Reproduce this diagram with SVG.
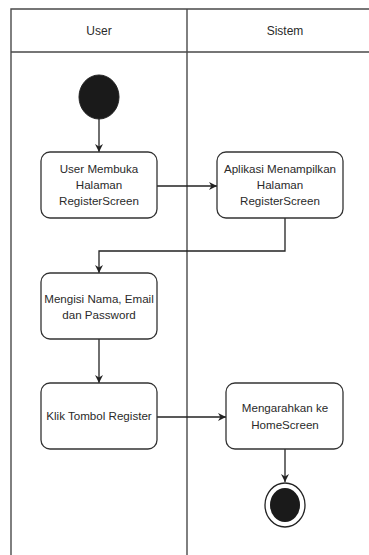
<svg xmlns="http://www.w3.org/2000/svg" width="369" height="555" viewBox="0 0 369 555">
  <style>
    .lane { fill: none; stroke: #4a4a4a; stroke-width: 1.4; }
    .node { fill: #ffffff; stroke: #333333; stroke-width: 1.3; }
    .lbl { font-family: "Liberation Sans", Arial, sans-serif; font-size: 11.6px; fill: #2a2a2a; text-anchor: middle; }
    .hdr { font-family: "Liberation Sans", Arial, sans-serif; font-size: 12px; fill: #2a2a2a; text-anchor: middle; }
    .edge { fill: none; stroke: #222222; stroke-width: 1.3; }
  </style>
  <defs>
    <marker id="arrow" viewBox="0 0 10 10" refX="10" refY="5" markerWidth="8" markerHeight="8" markerUnits="userSpaceOnUse" orient="auto">
      <path d="M0,0 L10,5 L0,10 L3,5 Z" fill="#222222"/>
    </marker>
  </defs>
  <rect width="369" height="555" fill="#ffffff"/>

  <!-- swimlanes -->
  <g id="lanes">
    <path class="lane" d="M11,555 V9 H369 M11,52 H369 M187,9 V555"/>
    <text class="hdr" x="99" y="35">User</text>
    <text class="hdr" x="285" y="35">Sistem</text>
  </g>

  <!-- connectors -->
  <g id="connectors">
    <path class="edge" d="M99,119 V152" marker-end="url(#arrow)"/>
    <path class="edge" d="M157,186 H217" marker-end="url(#arrow)"/>
    <path class="edge" d="M285,218 V251 H99 V273" marker-end="url(#arrow)"/>
    <path class="edge" d="M99,339 V383" marker-end="url(#arrow)"/>
    <path class="edge" d="M157,417 H226" marker-end="url(#arrow)"/>
    <path class="edge" d="M285,449 V482" marker-end="url(#arrow)"/>
  </g>

  <g id="start">
    <ellipse cx="99" cy="97" rx="20" ry="22" fill="#1a1a1a" stroke="#222" stroke-width="1"/>
  </g>

  <g id="open-register">
    <rect class="node" x="41" y="152" width="116" height="66" rx="9"/>
    <text class="lbl" x="99" y="173">User Membuka</text>
    <text class="lbl" x="99" y="189">Halaman</text>
    <text class="lbl" x="99" y="205">RegisterScreen</text>
  </g>

  <g id="show-register">
    <rect class="node" x="217" y="152" width="126" height="66" rx="9"/>
    <text class="lbl" x="280" y="173">Aplikasi Menampilkan</text>
    <text class="lbl" x="280" y="189">Halaman</text>
    <text class="lbl" x="280" y="205">RegisterScreen</text>
  </g>

  <g id="fill-form">
    <rect class="node" x="41" y="273" width="116" height="66" rx="9"/>
    <text class="lbl" x="99" y="303">Mengisi Nama, Email</text>
    <text class="lbl" x="99" y="319">dan Password</text>
  </g>

  <g id="click-register">
    <rect class="node" x="41" y="383" width="116" height="66" rx="9"/>
    <text class="lbl" x="99" y="420">Klik Tombol Register</text>
  </g>

  <g id="to-home">
    <rect class="node" x="226" y="383" width="117" height="66" rx="9"/>
    <text class="lbl" x="285" y="412">Mengarahkan ke</text>
    <text class="lbl" x="285" y="429">HomeScreen</text>
  </g>

  <g id="end">
    <ellipse cx="285" cy="505" rx="20" ry="22" fill="#ffffff" stroke="#222" stroke-width="1.3"/>
    <ellipse cx="285" cy="505" rx="15" ry="17" fill="#1a1a1a"/>
  </g>
</svg>
